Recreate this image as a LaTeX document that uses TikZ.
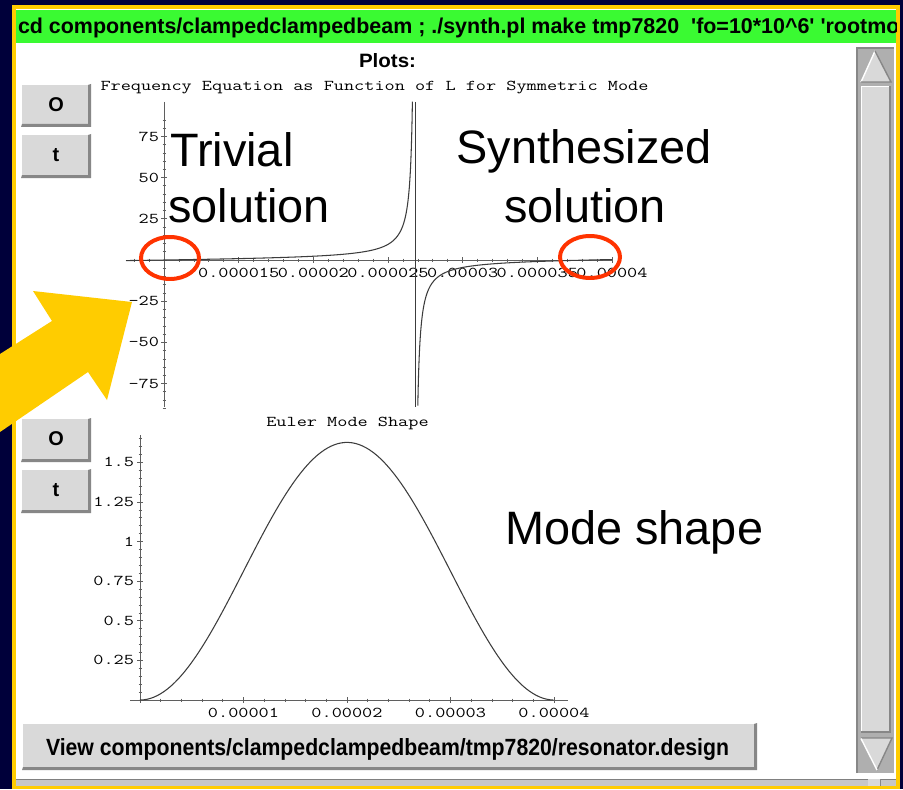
\documentclass[tikz,border=0pt]{standalone}
\usepackage{fontspec}
\setmainfont{Liberation Sans}
\usepackage{graphicx}
\definecolor{navy}{RGB}{0,0,58}
\definecolor{gold}{RGB}{255,204,0}
\definecolor{cmdgreen}{RGB}{58,250,50}
\definecolor{ringred}{RGB}{255,51,0}
\definecolor{btngray}{RGB}{217,217,217}
\definecolor{btndark}{RGB}{135,135,135}
\definecolor{troughc}{RGB}{175,175,175}
\definecolor{axisc}{RGB}{95,95,95}
\definecolor{curvec}{RGB}{60,60,60}
\newlength\wb
\newlength\wc
\newcommand\mt[1]{\scalebox{1.314}[1]{\fontsize{12.8pt}{14pt}\selectfont\ttfamily #1}}
\newcommand\bigf{\fontsize{40pt}{48pt}\selectfont}
\newcommand\gfont{\fontsize{18.3pt}{21pt}\selectfont\bfseries}
\newcommand\vfont{\fontsize{20pt}{24pt}\selectfont\bfseries}
\newcommand\pfont{\fontsize{16.5pt}{19pt}\selectfont\bfseries}
\newcommand\bfnt{\fontsize{17pt}{20pt}\selectfont\bfseries}
\newcommand\guibtn[6]{%
  \fill[btngray] (#2,#3) rectangle (#4,#5);
  \draw[white,line width=1pt] (#2+0.5,#5) -- (#2+0.5,#3+0.5) -- (#4,#3+0.5);
  \fill[btndark] (#4-3,#3+1) -- (#4,#3) -- (#4,#5) -- (#2,#5) -- (#2+1,#5-3) -- (#4-3,#5-3) -- cycle;
  \node[inner sep=0pt,font=\bfnt] (#1) at ({(#2+#4)/2},{(#3+#5)/2-1}) {#6};
}
\begin{document}
\settowidth\wb{\pfont Plots:}
\settowidth\wc{\vfont View components/clampedclampedbeam/tmp7820/resonator.design}
\pgfmathsetmacro\psc{57*0.853583/\wb}
\pgfmathsetmacro\vsc{683*0.853583/\wc}
\begin{tikzpicture}[x=0.03cm,y=-0.03cm,
  tl/.style={inner sep=0pt,outer sep=0pt},
  axisln/.style={draw=axisc,line width=0.8pt},
  tk/.style={draw=axisc,line width=0.6pt},
  curve/.style={draw=curvec,line width=0.9pt},
  ring/.style={draw=ringred,line width=3.4pt},
  biglbl/.style={inner sep=0pt,font=\bigf,text=black},
]
\useasboundingbox (0,0) rectangle (903,789);
% frame
\fill[navy] (0,0) rectangle (903,789);
\fill[gold] (12,5) rectangle (900,789);
\fill[white] (16,9) rectangle (896,786);
\fill[cmdgreen] (16,10) rectangle (896,43.5);
% command line text
\begin{scope}
\clip (16,10) rectangle (896,43.5);
\node[tl,anchor=base west] (cmd) at (18,33.5) {\gfont cd components/clampedclampedbeam ; ./synth.pl make tmp7820\ \ \textquotesingle fo=10*10\textasciicircum 6\textquotesingle\ \textquotesingle rootmode};
\end{scope}
% Plots:
\node[tl,anchor=base west] (plots) at (359,68) {\scalebox{\psc}[1]{\pfont Plots:}};
% buttons
\guibtn{bo1}{21}{84}{91}{127}{O}
\guibtn{bt1}{21}{134}{91}{178}{t}
\guibtn{bo2}{21}{418}{91}{462}{O}
\guibtn{bt2}{21}{469}{91}{513}{t}
% ---- top plot
\node[tl] (title1) at (374.5,88) {\mt{Frequency Equation as Function of L for Symmetric Mode}};
\draw[axisln] (164,102) -- (164,407);
\draw[axisln] (126,260) -- (612,260);
\foreach \k in {-18,...,17} \draw[tk] (162.5,{260-8.24*\k}) -- (165.5,{260-8.24*\k});
\foreach \k in {-15,-10,-5,5,10,15} \draw[tk] (161,{260-8.24*\k}) -- (167,{260-8.24*\k});
\foreach \k in {-2,...,30} \draw[tk] ({164+14.933*\k},258.5) -- ({164+14.933*\k},261.5);
\foreach \k in {5,10,...,30} \draw[tk] ({164+14.933*\k},257) -- ({164+14.933*\k},263);
\node[tl,anchor=east] (ya1) at (159,136.4) {\mt{75}};
\node[tl,anchor=east] (ya2) at (159,177.6) {\mt{50}};
\node[tl,anchor=east] (ya3) at (159,218.8) {\mt{25}};
\node[tl,anchor=east] (ya4) at (159,301.2) {\mt{-25}};
\node[tl,anchor=east] (ya5) at (159,342.4) {\mt{-50}};
\node[tl,anchor=east] (ya6) at (159,383.6) {\mt{-75}};
\node[tl] (xa1) at (238.7,273) {\mt{0.000015}};
\node[tl] (xa2) at (313.3,273) {\mt{0.00002}};
\node[tl] (xa3) at (388,273) {\mt{0.000025}};
\node[tl] (xa4) at (462.7,273) {\mt{0.00003}};
\node[tl] (xa5) at (537.3,273) {\mt{0.000035}};
\node[tl] (xa6) at (612,273) {\mt{0.00004}};
\draw[curve] plot[domain=126:400,samples=120] (\x,{260-0.009371*(\x-165)/(415-\x)*(590-\x)})
  -- plot[domain=400:412.4,samples=40] (\x,{260-0.009371*(\x-165)/(415-\x)*(590-\x)});
\draw[curve] plot[domain=417.8:432,samples=40] (\x,{260-0.009371*(\x-165)/(415-\x)*(590-\x)})
  -- plot[domain=432:612,samples=90] (\x,{260-0.009371*(\x-165)/(415-\x)*(590-\x)});
\draw[curve] (415.5,102) -- (415.5,407);
% ---- bottom plot
\node[tl] (title2) at (347.5,423) {\mt{Euler Mode Shape}};
\draw[axisln] (140,435) -- (140,703);
\draw[axisln] (130,700) -- (568,700);
\foreach \k in {1,...,33} \draw[tk] (138.5,{700-7.92*\k}) -- (141.5,{700-7.92*\k});
\foreach \k in {5,10,...,30} \draw[tk] (137,{700-7.92*\k}) -- (143,{700-7.92*\k});
\foreach \k in {0,...,20} \draw[tk] ({140+20.7*\k},698.5) -- ({140+20.7*\k},701.5);
\foreach \k in {5,10,15,20} \draw[tk] ({140+20.7*\k},697) -- ({140+20.7*\k},703);
\node[tl,anchor=east] (yb1) at (134,462.4) {\mt{1.5}};
\node[tl,anchor=east] (yb2) at (134,502) {\mt{1.25}};
\node[tl,anchor=east] (yb3) at (134,541.6) {\mt{1}};
\node[tl,anchor=east] (yb4) at (134,581.2) {\mt{0.75}};
\node[tl,anchor=east] (yb5) at (134,620.8) {\mt{0.5}};
\node[tl,anchor=east] (yb6) at (134,660.4) {\mt{0.25}};
\node[tl] (xb1) at (243.5,713) {\mt{0.00001}};
\node[tl] (xb2) at (347,713) {\mt{0.00002}};
\node[tl] (xb3) at (450.5,713) {\mt{0.00003}};
\node[tl] (xb4) at (554,713) {\mt{0.00004}};
\draw[curve] plot[domain=0:1,samples=120,smooth] ({140+414*\x},{700-128.8*(1-cos(360*\x))});
% ---- view button
\fill[btngray] (22,723) rectangle (757,770);
\draw[white,line width=1pt] (22.5,770) -- (22.5,723.5) -- (757,723.5);
\fill[btndark] (754,724) -- (757,723) -- (757,770) -- (22,770) -- (23,767) -- (754,767) -- cycle;
\node[tl,anchor=base west] (view) at (46,755) {\scalebox{\vsc}[1]{\vfont View components/clampedclampedbeam/tmp7820/resonator.design}};
% ---- vertical scrollbar
\fill[troughc] (856,47) rectangle (894,773);
\draw[btndark,line width=1.6pt] (857,773) -- (857,47.8) -- (894,47.8);
\fill[btngray] (875,51) -- (861,82) -- (891,82) -- cycle;
\draw[white,line width=1.2pt] (861,82) -- (875,51);
\draw[btndark,line width=1.2pt] (875,51) -- (891,82) -- (861,82);
\fill[btngray] (861,86) rectangle (891,733);
\draw[white,line width=1.2pt] (861.7,733) -- (861.7,86.7) -- (891,86.7);
\draw[btndark,line width=1.6pt] (890,86) -- (890,732) -- (861,732);
\fill[btngray] (861,738) -- (892,738) -- (877,770) -- cycle;
\draw[btndark,line width=1.2pt] (861,738) -- (892,738) -- (877,770);
\draw[white,line width=1.2pt] (861,738.5) -- (877,770);
% ---- horizontal scrollbar
\fill[btngray!80!gray] (16,779) rectangle (896,786);
\draw[gray,line width=0.8pt] (16,779.5) -- (896,779.5);
\fill[btngray] (868,779) rectangle (881,786);
\draw[btndark,line width=0.8pt] (880.5,779) -- (880.5,786);
% ---- annotations
\draw[ring] (170,258) ellipse [x radius=0.87cm, y radius=0.63cm];
\draw[ring] (590,257) ellipse [x radius=0.9cm, y radius=0.63cm];
\node[biglbl,anchor=base west] (triv) at (170,166) {Trivial};
\node[biglbl,anchor=base west] (tsol) at (168,222) {solution};
\node[biglbl,anchor=base] (syn) at (584,164) {Synthesized};
\node[biglbl,anchor=base] (ssol) at (585,222) {solution};
\node[biglbl,anchor=base west] (mode) at (505,544) {Mode shape};
% ---- arrow
\fill[gold] (0,354) -- (52,321) -- (33,291) -- (132,302) -- (107,400) -- (88,372) -- (0,432) -- cycle;
\end{tikzpicture}
\end{document}
